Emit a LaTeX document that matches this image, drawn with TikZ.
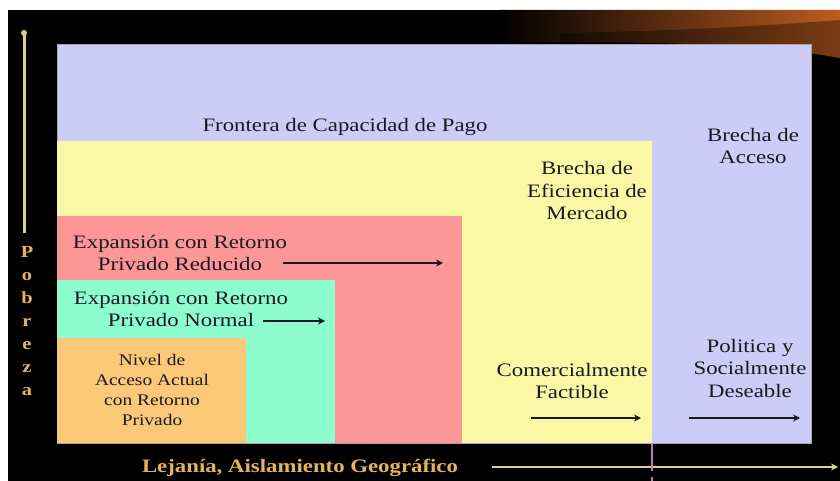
\documentclass[tikz,border=0pt]{standalone}
\usepackage{fontspec}
\setmainfont{Liberation Serif}[FakeStretch=1.2]
\usetikzlibrary{arrows.meta}
\definecolor{lav}{RGB}{204,204,247}
\definecolor{yel}{RGB}{251,248,165}
\definecolor{pnk}{RGB}{253,150,150}
\definecolor{grn}{RGB}{142,253,206}
\definecolor{org}{RGB}{251,200,120}
\definecolor{txt}{RGB}{25,25,35}
\definecolor{axis}{RGB}{218,212,135}
\definecolor{gold}{RGB}{228,180,92}
\definecolor{glow}{RGB}{188,92,32}
\definecolor{tick}{RGB}{190,120,200}
\tikzset{
  lbl/.style={text=txt, inner sep=0pt, align=center, font=\fontsize{19}{22.5}\selectfont},
  small/.style={text=txt, inner sep=0pt, align=center, font=\fontsize{16.2}{19.8}\selectfont},
  axlbl/.style={text=gold, inner sep=0pt, align=center, font=\bfseries\fontsize{19}{23}\selectfont},
  arr/.style={draw=txt, line width=2.6pt, -{Stealth[length=7pt,width=7pt]}},
  axline/.style={draw=axis, line width=3pt},
  region/.style={draw=none}
}
\begin{document}
\begin{tikzpicture}[x=1pt,y=-1pt]
\useasboundingbox (0,0) rectangle (840,481);
\fill[white] (0,0) rectangle (840,481);
\fill[black] (8,10) rectangle (840,481);
% glow at top right
\shade[left color=black, right color=glow] (500,10) -- (840,10) -- (840,58)
  .. controls (780,47) and (700,43) .. (600,42) -- (500,42) -- cycle;
\fill[black, opacity=0.35] (840,20) .. controls (760,26) and (680,31) .. (560,33)
  -- (560,42) -- (600,42) .. controls (700,43) and (780,47) .. (840,58) -- cycle;
% regions
\fill[region, lav] (57,44) rectangle (811,443);
\draw[gray!70, line width=0.8pt] (57,44) rectangle (811,443);
\fill[region, yel] (57,141) rectangle (652,443);
\fill[region, pnk] (57,216) rectangle (462,443);
\fill[region, grn] (57,280) rectangle (335,443);
\fill[region, org] (57,338) rectangle (246,443);
% labels
\node[lbl] (frontera) at (345,127) {Frontera de Capacidad de Pago};
\node[lbl] (bacceso) at (753,146) {Brecha de\\Acceso};
\node[lbl] (befic) at (587,191) {Brecha de\\Eficiencia de\\Mercado};
\node[lbl] (exprr) at (180,253) {Expansión con Retorno\\Privado Reducido};
\node[lbl] (exprn) at (181,309) {Expansión con Retorno\\Privado Normal};
\node[small] (nivel) at (152,390) {Nivel de\\Acceso Actual\\con Retorno\\Privado};
\node[lbl] (comerc) at (572,381) {Comercialmente\\Factible};
\node[lbl] (politica) at (750,368) {Politica y\\Socialmente\\Deseable};
% arrows
\coordinate (a1s) at (283,263); \coordinate (a1e) at (443,263);
\coordinate (a2s) at (263,321); \coordinate (a2e) at (325,321);
\coordinate (a3s) at (531,418); \coordinate (a3e) at (641,418);
\coordinate (a4s) at (689,418); \coordinate (a4e) at (800,418);
\draw[arr] (a1s) -- (a1e);
\draw[arr] (a2s) -- (a2e);
\draw[arr] (a3s) -- (a3e);
\draw[arr] (a4s) -- (a4e);
% axes
\coordinate (vbot) at (24,233); \coordinate (vtop) at (24,33);
\draw[axline] (vbot) -- (vtop);
\fill[axis] (vtop) circle (3pt);
\coordinate (hs) at (492,467); \coordinate (he) at (838,467);
\draw[axline, line width=2.6pt, -{Stealth[length=7pt,width=7pt]}] (hs) -- (he);
\coordinate (t1) at (652,443); \coordinate (t2) at (652,471);
\coordinate (t3) at (652,477); \coordinate (t4) at (652,481);
\draw[tick, line width=1.8pt] (t1) -- (t2);
\draw[tick, line width=1.8pt] (t3) -- (t4);
\node[axlbl] (lejania) at (300,468) {Lejanía, Aislamiento Geográfico};
\node[axlbl, font=\bfseries\fontsize{17}{23}\selectfont] (pobreza) at (27,321) {P\\o\\b\\r\\e\\z\\a};
\end{tikzpicture}
\end{document}
